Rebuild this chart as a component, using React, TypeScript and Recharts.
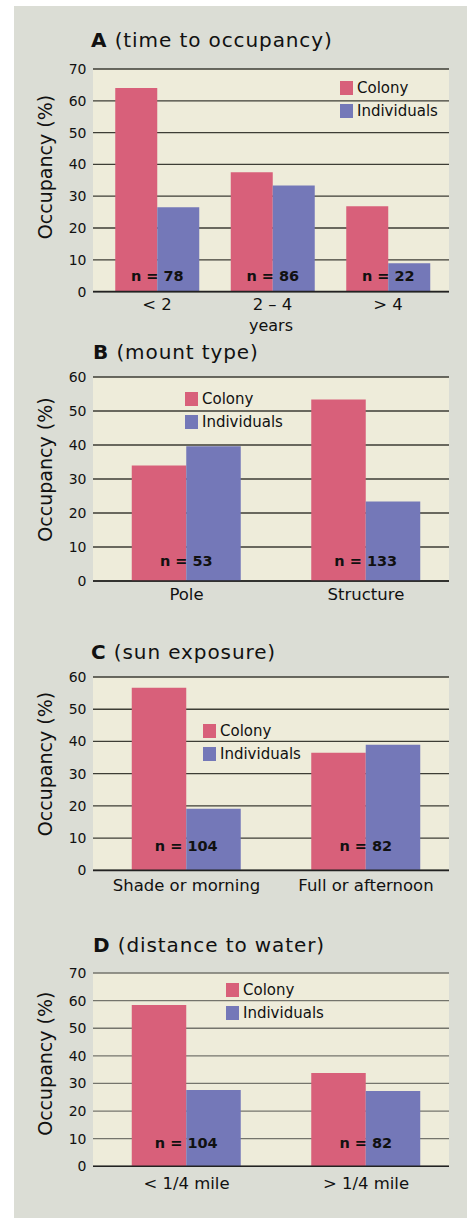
import React from 'react';
import { BarChart, Bar, XAxis, YAxis, CartesianGrid, Legend, LabelList } from 'recharts';

const FONT = '"DejaVu Sans", "Open Sans", sans-serif';
const PINK = '#d8607a';
const BLUE = '#7478b8';

// Panel A (time to occupancy)
const categoriesA = ['< 2', '2 – 4', '> 4'];
const colonyA = [64, 37.5, 26.8];
const individualsA = [26.5, 33.4, 8.9];
const nA = [78, 86, 22];
const ticksA = [0, 10, 20, 30, 40, 50, 60, 70];

// Panel B (mount type)
const categoriesB = ['Pole', 'Structure'];
const colonyB = [34.0, 53.4];
const individualsB = [39.6, 23.4];
const nB = [53, 133];
const ticksB = [0, 10, 20, 30, 40, 50, 60];

// Panel C (sun exposure)
const categoriesC = ['Shade or morning', 'Full or afternoon'];
const colonyC = [56.7, 36.5];
const individualsC = [19.1, 39.0];
const nC = [104, 82];
const ticksC = [0, 10, 20, 30, 40, 50, 60];

// Panel D (distance to water)
const categoriesD = ['< 1/4 mile', '> 1/4 mile'];
const colonyD = [58.4, 33.8];
const individualsD = [27.6, 27.3];
const nD = [104, 82];
const ticksD = [0, 10, 20, 30, 40, 50, 60, 70];

const build = (cats: string[], col: number[], ind: number[], n: number[]) =>
  cats.map((c, i) => ({ cat: c, Colony: col[i], Individuals: ind[i], n: n[i] }));

type PanelProps = {
  data: any[];
  ticks: number[];
  plotTop: number;
  plotBottom: number;
  legendLeft: number;
  legendTop: number;
  barSize: number;
  padLeft: number;
  padRight: number;
  nOffset: number;
  tickMargin: number;
  gridColor: string;
  xLabel?: string;
};

const LegendContent = () => (
  <div style={{ fontFamily: FONT, fontSize: 15, color: '#111' }}>
    {[
      { name: 'Colony', color: PINK },
      { name: 'Individuals', color: BLUE },
    ].map((it) => (
      <div key={it.name} style={{ display: 'flex', alignItems: 'center', height: 23 }}>
        <span style={{ display: 'inline-block', width: 13, height: 14, background: it.color, marginRight: 4 }} />
        <span>{it.name}</span>
      </div>
    ))}
  </div>
);

const Panel = (p: PanelProps) => {
  const topPad = 10;
  const xAxisH = 45;
  const plotH = p.plotBottom - p.plotTop;
  const height = topPad + plotH + xAxisH;
  const wrapTop = p.plotTop - topPad;
  const max = p.ticks[p.ticks.length - 1];
  const nLabel = (props: any) => {
    const vb = props.viewBox && props.viewBox.width !== undefined ? props.viewBox : props;
    const x = Number(vb.x) + Number(vb.width);
    const y = Number(vb.y) + Number(vb.height) - p.nOffset;
    return (
      <text x={x} y={y} textAnchor="middle" dominantBaseline="central" fontFamily={FONT} fontSize={14.5} fontWeight="bold" fill="#111">
        {`n = ${props.value}`}
      </text>
    );
  };
  return (
    <div style={{ position: 'absolute', left: 0, top: wrapTop, width: 467, height }}>
      <BarChart
        width={467}
        height={height}
        data={p.data}
        margin={{ top: topPad, right: 18, left: 33, bottom: 0 }}
        barGap={0}
        barSize={p.barSize}
      >
        <CartesianGrid vertical={false} fill="#eeecda" stroke={p.gridColor} strokeWidth={1.3} />
        <XAxis
          dataKey="cat"
          height={xAxisH}
          tickLine={false}
          tickSize={0}
          tickMargin={p.tickMargin}
          axisLine={{ stroke: '#222', strokeWidth: 1.6 }}
          padding={{ left: p.padLeft, right: p.padRight }}
          tick={{ fontFamily: FONT, fontSize: 16.5, fill: '#111' }}
          interval={0}
          label={
            p.xLabel
              ? { value: p.xLabel, position: 'insideBottom', offset: 6, style: { fontFamily: FONT, fontSize: 16, fill: '#111' } }
              : undefined
          }
        />
        <YAxis
          width={60}
          domain={[0, max]}
          ticks={p.ticks}
          interval={0}
          tickLine={false}
          axisLine={false}
          tickSize={2}
          tickMargin={4.5}
          tick={{ fontFamily: FONT, fontSize: 14, fill: '#111' }}
        />
        <Legend
          layout="vertical"
          align="center"
          verticalAlign="middle"
          content={() => <LegendContent />}
          wrapperStyle={{ left: p.legendLeft, top: p.legendTop - wrapTop - 4.5, width: 'auto', bottom: 'auto' }}
        />
        <Bar dataKey="Colony" fill={PINK} isAnimationActive={false}>
          <LabelList dataKey="n" content={nLabel} />
        </Bar>
        <Bar dataKey="Individuals" fill={BLUE} isAnimationActive={false} />
      </BarChart>
    </div>
  );
};

const titles = [
  { letter: 'A', rest: ' (time to occupancy)', x: 91, y: 46.7, labelY: 167 },
  { letter: 'B', rest: ' (mount type)', x: 93, y: 359.3, labelY: 469.5 },
  { letter: 'C', rest: ' (sun exposure)', x: 91, y: 659.3, labelY: 764 },
  { letter: 'D', rest: ' (distance to water)', x: 93, y: 951.7, labelY: 1063.7 },
];

export default function App() {
  return (
    <div style={{ position: 'absolute', left: 0, top: 0, width: 467, height: 1218, overflow: 'hidden', background: '#ffffff' }}>
      <div style={{ position: 'absolute', left: 14, top: 6, width: 453, height: 1212, background: '#dbddd5' }} />
      <svg width={467} height={1218} style={{ position: 'absolute', left: 0, top: 0 }}>
        {titles.map((t) => (
          <g key={t.letter}>
            <text x={t.x} y={t.y} fontFamily={FONT} fontSize={20} fill="#111" style={{ letterSpacing: '0.9px' }}>
              <tspan fontWeight="bold">{t.letter}</tspan>
              <tspan>{t.rest}</tspan>
            </text>
            <text
              x={52}
              y={t.labelY}
              transform={`rotate(-90, 52, ${t.labelY})`}
              textAnchor="middle"
              fontFamily={FONT}
              fontSize={19}
              fill="#111"
            >
              Occupancy (%)
            </text>
          </g>
        ))}
      </svg>
      <Panel
        data={build(categoriesA, colonyA, individualsA, nA)}
        ticks={ticksA}
        plotTop={68.7}
        plotBottom={291.3}
        legendLeft={340}
        legendTop={81}
        barSize={42}
        padLeft={6.25}
        padRight={3.25}
        nOffset={15.3}
        tickMargin={7}
        gridColor="#3d3d35"
        xLabel="years"
      />
      <Panel
        data={build(categoriesB, colonyB, individualsB, nB)}
        ticks={ticksB}
        plotTop={376.7}
        plotBottom={580.7}
        legendLeft={185}
        legendTop={392}
        barSize={54.5}
        padLeft={3.75}
        padRight={-6.75}
        nOffset={19.7}
        tickMargin={7}
        gridColor="#3d3d35"
      />
      <Panel
        data={build(categoriesC, colonyC, individualsC, nC)}
        ticks={ticksC}
        plotTop={677.3}
        plotBottom={870.7}
        legendLeft={203}
        legendTop={723.7}
        barSize={54.5}
        padLeft={3.75}
        padRight={-6.75}
        nOffset={24.7}
        tickMargin={9}
        gridColor="#3d3d35"
      />
      <Panel
        data={build(categoriesD, colonyD, individualsD, nD)}
        ticks={ticksD}
        plotTop={973}
        plotBottom={1166.3}
        legendLeft={226}
        legendTop={983}
        barSize={54.5}
        padLeft={3.75}
        padRight={-6.75}
        nOffset={23.3}
        tickMargin={10.5}
        gridColor="#74746c"
      />
    </div>
  );
}
